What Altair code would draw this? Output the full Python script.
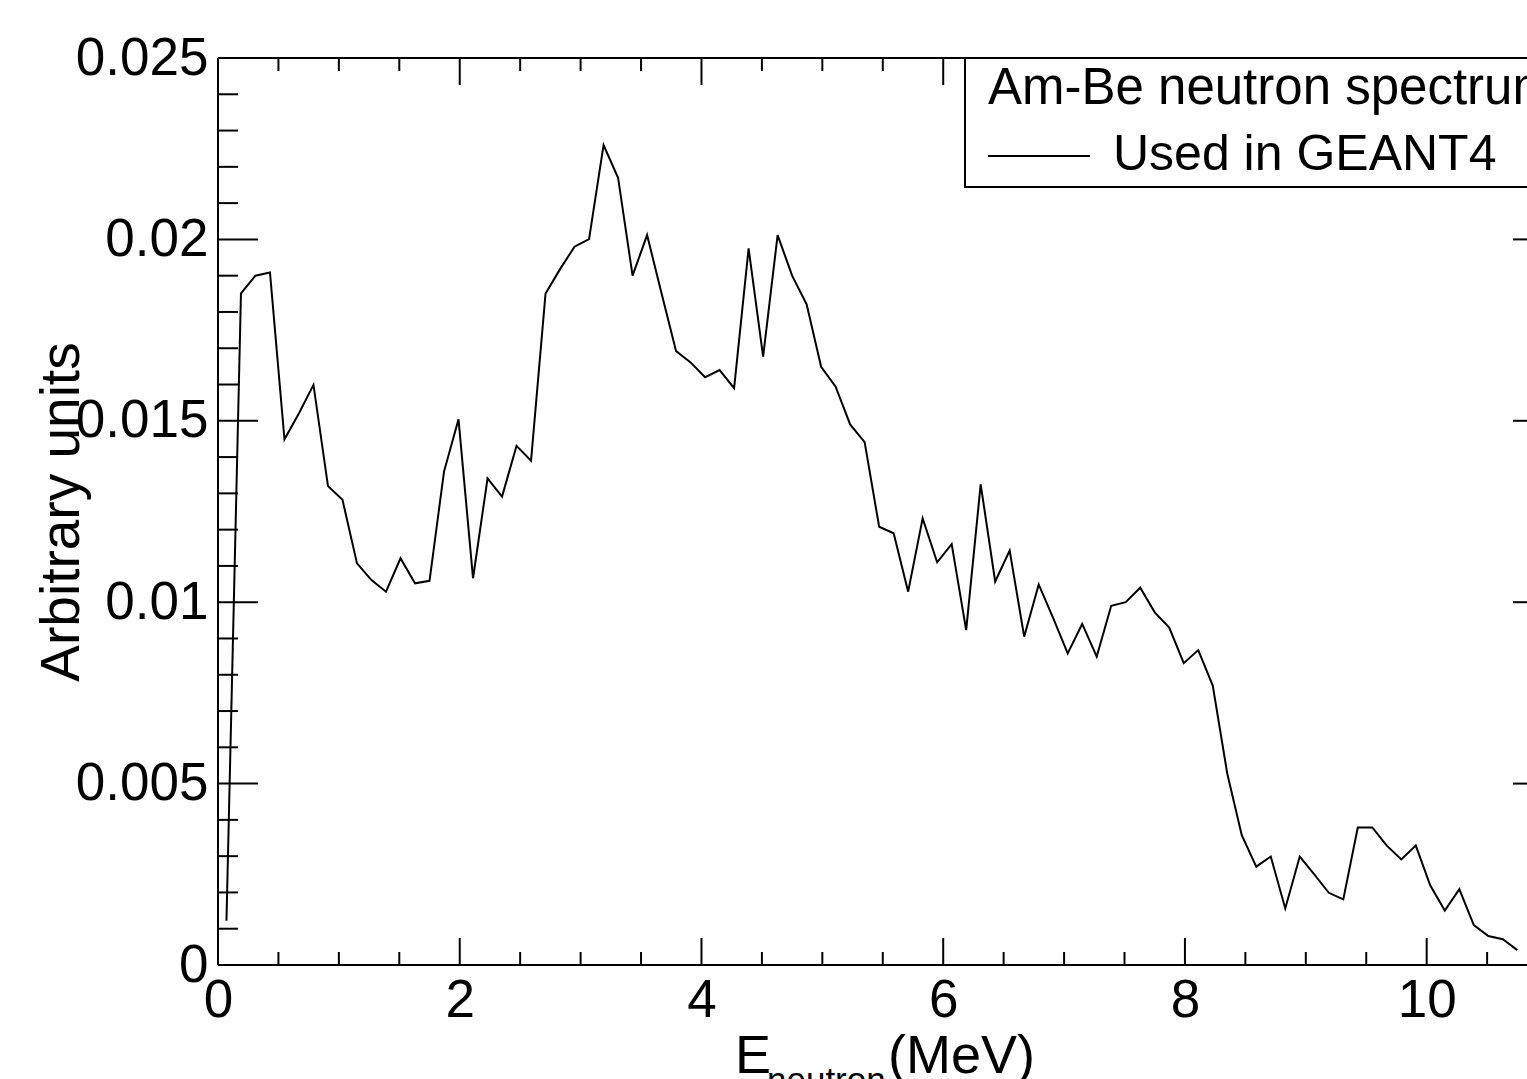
import altair as alt
import pandas as pd

# ---- data ----
energy_mev = [0.07, 0.19, 0.31, 0.43, 0.55, 0.67, 0.79, 0.91, 1.03, 1.15,
              1.27, 1.39, 1.51, 1.63, 1.75, 1.87, 1.99, 2.11, 2.23, 2.35,
              2.47, 2.59, 2.71, 2.83, 2.95, 3.07, 3.19, 3.31, 3.43, 3.55,
              3.67, 3.79, 3.91, 4.03, 4.15, 4.27, 4.39, 4.51, 4.63, 4.75,
              4.87, 4.99, 5.11, 5.23, 5.35, 5.47, 5.59, 5.71, 5.83, 5.95,
              6.07, 6.19, 6.31, 6.43, 6.55, 6.67, 6.79, 6.91, 7.03, 7.15,
              7.27, 7.39, 7.51, 7.63, 7.75, 7.87, 7.99, 8.11, 8.23, 8.35,
              8.47, 8.59, 8.71, 8.83, 8.95, 9.07, 9.19, 9.31, 9.43, 9.55,
              9.67, 9.79, 9.91, 10.03, 10.15, 10.27, 10.39, 10.51, 10.63, 10.75]
arb_units = [0.00122, 0.01851, 0.01900, 0.01909, 0.01449, 0.01521, 0.01599, 0.01320, 0.01282, 0.01107,
             0.01061, 0.01029, 0.01121, 0.01052, 0.01059, 0.01360, 0.01504, 0.01066, 0.01341, 0.01291,
             0.01431, 0.01390, 0.01851, 0.01918, 0.01980, 0.02001, 0.02260, 0.02170, 0.01900, 0.02012,
             0.01851, 0.01692, 0.01661, 0.01620, 0.01640, 0.01590, 0.01975, 0.01677, 0.02012, 0.01900,
             0.01821, 0.01649, 0.01594, 0.01490, 0.01441, 0.01208, 0.01190, 0.01029, 0.01231, 0.01110,
             0.01160, 0.00923, 0.01325, 0.01057, 0.01142, 0.00905, 0.01049, 0.00956, 0.00859, 0.00940,
             0.00850, 0.00990, 0.01000, 0.01040, 0.00972, 0.00930, 0.00832, 0.00868, 0.00770, 0.00528,
             0.00358, 0.00271, 0.00299, 0.00156, 0.00299, 0.00250, 0.00199, 0.00181, 0.00379, 0.00379,
             0.00329, 0.00291, 0.00329, 0.00219, 0.00150, 0.00209, 0.00110, 0.00080, 0.00071, 0.00041]

x_major = [0, 2, 4, 6, 8, 10]
x_minor = [0.5, 1, 1.5, 2.5, 3, 3.5, 4.5, 5, 5.5, 6.5, 7, 7.5, 8.5, 9, 9.5, 10.5]
y_major = [0, 0.005, 0.01, 0.015, 0.02, 0.025]
y_minor = [0.001, 0.002, 0.003, 0.004, 0.006, 0.007, 0.008, 0.009,
           0.011, 0.012, 0.013, 0.014, 0.016, 0.017, 0.018, 0.019,
           0.021, 0.022, 0.023, 0.024]
y_right_major = [0.005, 0.01, 0.015, 0.02]

legend_header = "Am-Be neutron spectrum"
legend_entry = "Used in GEANT4"
y_title = "Arbitrary units"

FONT = "Liberation Sans"
W, H = 1309, 907

xs = alt.Scale(domain=[0, 10.83], nice=False, zero=False)
ys = alt.Scale(domain=[0, 0.025], nice=False, zero=False)

df = pd.DataFrame({"E": energy_mev, "A": arb_units})

x_axis = alt.Axis(values=x_major, format="~r", ticks=False, tickSize=0, domain=False,
                  grid=False, labelFontSize=53, labelPadding=9, labelColor="black",
                  labelFont=FONT, labelFlush=False, labelOverlap=False, title="")
y_axis = alt.Axis(values=y_major, format="~r", ticks=False, tickSize=0, domain=False,
                  grid=False, labelFontSize=53, labelPadding=10, labelColor="black",
                  labelFont=FONT, labelFlush=False, labelOverlap=False,
                  title=y_title, titleFont=FONT, titleFontSize=55, titleFontWeight="normal",
                  titleColor="black", titleAngle=270, titleX=-140, titleY=H / 2,
                  titleAlign="center", titleBaseline="alphabetic")

line = alt.Chart(df).mark_line(color="black", strokeWidth=2).encode(
    x=alt.X("E:Q", scale=xs, axis=x_axis),
    y=alt.Y("A:Q", scale=ys, axis=y_axis),
)

one = pd.DataFrame({"d": [0]})

frame_left = alt.Chart(one).mark_rule(color="black", strokeWidth=2).encode(
    x=alt.value(0), y=alt.value(0), y2=alt.value(H))
frame_top = alt.Chart(one).mark_rule(color="black", strokeWidth=2).encode(
    x=alt.value(0), x2=alt.value(W), y=alt.value(0))
frame_bottom = alt.Chart(one).mark_rule(color="black", strokeWidth=2).encode(
    x=alt.value(0), x2=alt.value(W), y=alt.value(H))

def yticks(vals, x0, x1):
    return alt.Chart(pd.DataFrame({"A": vals})).mark_rule(color="black", strokeWidth=2).encode(
        y=alt.Y("A:Q", scale=ys, axis=y_axis), x=alt.value(x0), x2=alt.value(x1))

def xticks(vals, y0, y1):
    return alt.Chart(pd.DataFrame({"E": vals})).mark_rule(color="black", strokeWidth=2).encode(
        x=alt.X("E:Q", scale=xs, axis=x_axis), y=alt.value(y0), y2=alt.value(y1))

ticks = [
    yticks(y_major, 0, 40), yticks(y_minor, 0, 20),
    yticks(y_right_major, W - 14, W),
    xticks(x_major, H, H - 27), xticks(x_minor, H, H - 13),
    xticks(x_major, 0, 27), xticks(x_minor, 0, 13),
]

leg_box = alt.Chart(one).mark_rect(fill="white", stroke="black", strokeWidth=2).encode(
    x=alt.value(747), x2=alt.value(W + 20), y=alt.value(0), y2=alt.value(129))
leg_line = alt.Chart(one).mark_rule(color="black", strokeWidth=2).encode(
    x=alt.value(770), x2=alt.value(872), y=alt.value(98))
leg_head = alt.Chart(pd.DataFrame({"t": [legend_header]})).mark_text(
    align="left", baseline="alphabetic", font=FONT, fontSize=51, color="black").encode(
    text="t:N", x=alt.value(770), y=alt.value(46))
leg_entry = alt.Chart(pd.DataFrame({"t": [legend_entry]})).mark_text(
    align="left", baseline="alphabetic", font=FONT, fontSize=50, color="black").encode(
    text="t:N", x=alt.value(895), y=alt.value(112))

xt_E = alt.Chart(pd.DataFrame({"t": ["E"]})).mark_text(
    align="left", baseline="alphabetic", font=FONT, fontSize=54, color="black").encode(
    text="t:N", x=alt.value(517), y=alt.value(1015))
xt_sub = alt.Chart(pd.DataFrame({"t": ["neutron"]})).mark_text(
    align="left", baseline="alphabetic", font=FONT, fontSize=35, color="black").encode(
    text="t:N", x=alt.value(549), y=alt.value(1034))
xt_unit = alt.Chart(pd.DataFrame({"t": ["(MeV)"]})).mark_text(
    align="left", baseline="alphabetic", font=FONT, fontSize=54, color="black").encode(
    text="t:N", x=alt.value(670), y=alt.value(1015))

chart = alt.layer(
    line, frame_left, frame_top, frame_bottom, *ticks,
    leg_box, leg_line, leg_head, leg_entry, xt_E, xt_sub, xt_unit,
).properties(
    width=W, height=H,
    autosize=alt.AutoSizeParams(type="none"),
    padding={"left": 218, "top": 58, "right": 0, "bottom": 114},
    background="white",
).configure_view(stroke="transparent")

chart.save("out.html", embed_options={"renderer": "svg", "actions": False})
